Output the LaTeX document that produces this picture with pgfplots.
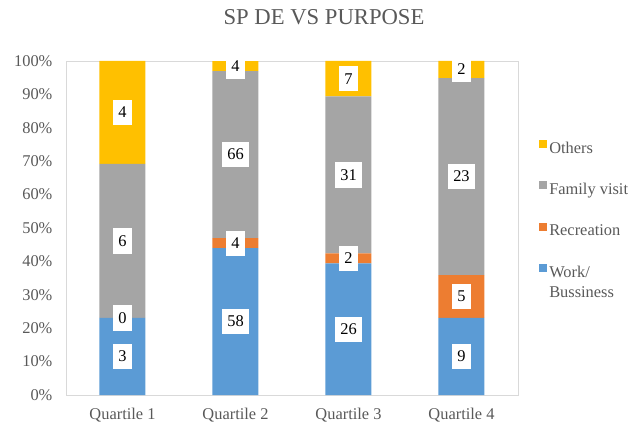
\documentclass[border=0pt]{standalone}
\usepackage{pgfplots}
\pgfplotsset{compat=1.18}
\usepackage{pgfplotstable}
\usepackage{fontspec}
\setmainfont{Liberation Serif}
\definecolor{cwork}{HTML}{5B9BD5}
\definecolor{crec}{HTML}{ED7D31}
\definecolor{cfam}{HTML}{A5A5A5}
\definecolor{coth}{HTML}{FFC000}
\definecolor{txt}{HTML}{595959}
\definecolor{axl}{HTML}{D9D9D9}

% pct = share of the quartile (in %), count = raw count shown in label,
% mid = middle of the segment in the 100% stack (label position)
\pgfplotstableread{
x pct count mid
0 23.077 3 11.538
1 43.939 58 21.970
2 39.394 26 19.697
3 23.077 9 11.538
}\work
\pgfplotstableread{
x pct count mid
0 0.000 0 23.077
1 3.030 4 45.455
2 3.030 2 40.909
3 12.821 5 29.487
}\rec
\pgfplotstableread{
x pct count mid
0 46.154 6 46.154
1 50.000 66 71.970
2 46.970 31 65.909
3 58.974 23 65.385
}\fam
\pgfplotstableread{
x pct count mid
0 30.769 4 84.615
1 3.030 4 98.485
2 10.606 7 94.697
3 5.128 2 97.436
}\oth

\pgfplotsset{
  geom/.style={
    at={(0,0)}, anchor=south west,
    width=339pt, height=250.5pt, scale only axis,
    xmin=-0.5, xmax=3.5, ymin=0, ymax=100,
  },
  lbl/.style={
    only marks, mark=none,
    point meta=explicit symbolic,
    nodes near coords,
    every node near coord/.style={anchor=center,
      fill=white, text=black, font=\fontsize{12.3}{14}\selectfont,
      inner xsep=4pt, inner ysep=0pt, minimum height=19pt, minimum width=14pt},
  },
}

\begin{document}
\begin{tikzpicture}[x=1pt,y=1pt]
\useasboundingbox (-49.5,-25.5) rectangle (424.5,296.25);
\node[text=txt, font=\fontsize{17}{20}\selectfont] at (193.5,283.5) {SP DE VS PURPOSE};
\begin{axis}[
  geom,
  ybar stacked, bar width=34.5pt,
  xtick={0,1,2,3},
  xticklabels={Quartile 1,Quartile 2,Quartile 3,Quartile 4},
  ytick={0,10,...,100},
  yticklabel={\pgfmathprintnumber{\tick}\%},
  /pgf/number format/assume math mode=true,
  major tick length=0pt,
  tick style={draw=none},
  axis line style={draw=axl},
  ticklabel style={font=\fontsize{12.3}{14}\selectfont, text=txt},
  yticklabel style={anchor=east, inner sep=0pt, xshift=-10pt},
  xticklabel style={anchor=north, inner sep=0pt, yshift=-10pt},
  reverse legend,
  legend cell align=left,
  legend image code/.code={\fill[#1] (0pt,0.5pt) rectangle (6pt,6.5pt);},
  legend style={at={(1.045,0.766)}, anchor=north west, draw=none, fill=none,
    font=\fontsize{12.3}{15.5}\selectfont, text=txt, row sep=17pt,
    inner sep=0pt},
]
\addplot[fill=cwork, draw=none] table[x=x,y=pct]{\work};
\addlegendentry{\parbox[t]{80pt}{Work/\\Bussiness}}
\addplot[fill=crec, draw=none] table[x=x,y=pct]{\rec};
\addlegendentry{Recreation}
\addplot[fill=cfam, draw=none] table[x=x,y=pct]{\fam};
\addlegendentry{Family visit}
\addplot[fill=coth, draw=none] table[x=x,y=pct]{\oth};
\addlegendentry{Others}
\end{axis}
\begin{axis}[geom, hide axis, clip=false]
\addplot[lbl] table[x=x,y=mid,meta=count]{\work};
\addplot[lbl] table[x=x,y=mid,meta=count]{\rec};
\addplot[lbl] table[x=x,y=mid,meta=count]{\fam};
\addplot[lbl] table[x=x,y=mid,meta=count]{\oth};
\end{axis}
\end{tikzpicture}
\end{document}
